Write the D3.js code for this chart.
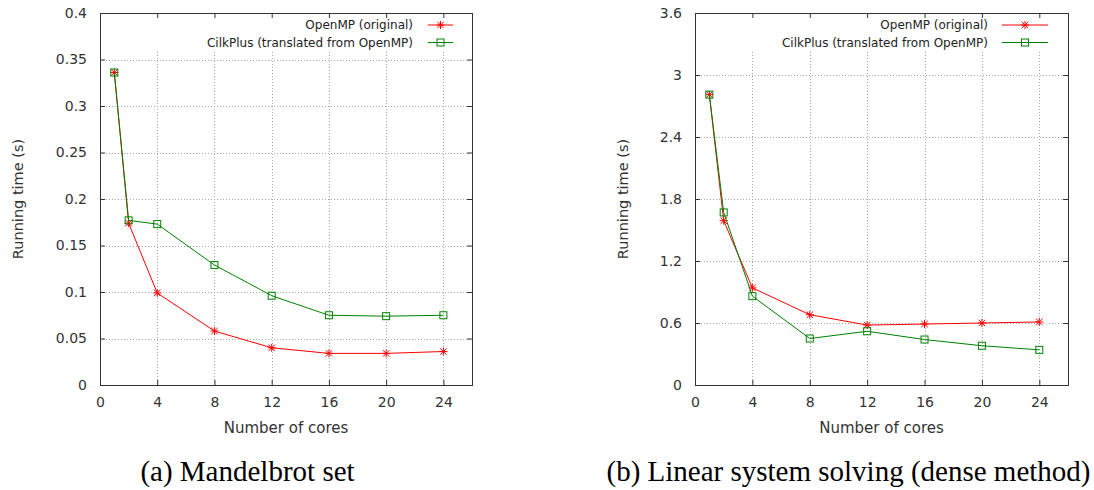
<!DOCTYPE html>
<html>
<head>
<meta charset="utf-8">
<script src="https://cdn.jsdelivr.net/npm/d3@7"></script>
<style>
  html, body { margin: 0; padding: 0; background: #fff; }
  svg { display: block; }
</style>
</head>
<body>
<script>
// ---- data ----
const cores = [1, 2, 4, 8, 12, 16, 20, 24];
const mandelOpenMP = [0.336, 0.174, 0.099, 0.058, 0.040, 0.034, 0.034, 0.036];
const mandelCilk   = [0.336, 0.177, 0.173, 0.129, 0.096, 0.075, 0.074, 0.075];
const linearOpenMP = [2.81, 1.59, 0.94, 0.68, 0.58, 0.59, 0.60, 0.61];
const linearCilk   = [2.81, 1.67, 0.86, 0.45, 0.52, 0.44, 0.38, 0.34];
const xTicks = [0, 4, 8, 12, 16, 20, 24];
const mandelYTicks = [0, 0.05, 0.1, 0.15, 0.2, 0.25, 0.3, 0.35, 0.4];
const linearYTicks = [0, 0.6, 1.2, 1.8, 2.4, 3, 3.6];
const seriesNames = ["OpenMP (original)", "CilkPlus (translated from OpenMP)"];
const captions = ["(a) Mandelbrot set", "(b) Linear system solving (dense method)"];
const xTitle = "Number of cores";
const yTitle = "Running time (s)";

const W = 1094, H = 490;
const svg = d3.select("body").append("svg").attr("width", W).attr("height", H);

const RED = "#ff0000", GREEN = "#008000";
const FONT = "DejaVu Sans, sans-serif";

function panel(cfg) {
  const { left, right, top, bottom, yMax, yTicks, openmp, cilk, caption, capX,
          legTextEnd, legLineX0, legLineX1, yTitleX } = cfg;
  const x = d3.scaleLinear().domain([0, 26]).range([left, right]);
  const y = d3.scaleLinear().domain([0, yMax]).range([bottom, top]);
  const g = svg.append("g");

  // grid
  const grid = g.append("g").attr("stroke", "#a8a8a8").attr("stroke-width", 1)
    .attr("stroke-dasharray", "1,2");
  xTicks.filter(t => t > 0).forEach(t => {
    grid.append("line").attr("x1", Math.round(x(t)) + 0.5).attr("x2", Math.round(x(t)) + 0.5)
      .attr("y1", 52).attr("y2", bottom);
  });
  yTicks.filter(t => t > 0 && t < yMax).forEach(t => {
    grid.append("line").attr("y1", Math.round(y(t)) + 0.5).attr("y2", Math.round(y(t)) + 0.5)
      .attr("x1", left).attr("x2", right);
  });

  // axes (inward ticks, mirrored)
  const fmt = d => String(+d.toFixed(2));
  const axB = g.append("g").attr("transform", `translate(0,${bottom})`)
    .call(d3.axisBottom(x).tickValues(xTicks).tickSize(-5).tickPadding(12).tickFormat(fmt));
  const axT = g.append("g").attr("transform", `translate(0,${top})`)
    .call(d3.axisTop(x).tickValues(xTicks).tickSize(-5).tickFormat(""));
  const axL = g.append("g").attr("transform", `translate(${left},0)`)
    .call(d3.axisLeft(y).tickValues(yTicks).tickSize(-5).tickPadding(13).tickFormat(fmt));
  const axR = g.append("g").attr("transform", `translate(${right},0)`)
    .call(d3.axisRight(y).tickValues(yTicks).tickSize(-5).tickFormat(""));
  [axB, axT, axL, axR].forEach(a => {
    a.select(".domain").remove();
    a.selectAll(".tick line").attr("stroke", "#333");
    a.selectAll("text").attr("font-family", FONT).attr("font-size", 14).attr("fill", "#333");
  });

  // frame
  g.append("rect").attr("x", left + 0.5).attr("y", top + 0.5)
    .attr("width", right - left).attr("height", bottom - top)
    .attr("fill", "none").attr("stroke", "#333").attr("stroke-width", 1);

  // titles
  g.append("text").attr("x", (left + right) / 2).attr("y", 433)
    .attr("text-anchor", "middle").attr("font-family", FONT).attr("font-size", 15)
    .attr("fill", "#333").text(xTitle);
  g.append("text").attr("transform", `translate(${yTitleX},${(top + bottom) / 2}) rotate(-90)`)
    .attr("text-anchor", "middle").attr("dy", "0.35em").attr("font-family", FONT)
    .attr("font-size", 14.5).attr("fill", "#333").text(yTitle);

  // caption
  svg.append("text").attr("x", capX).attr("y", 481).attr("text-anchor", "middle")
    .attr("font-family", "Liberation Serif, Times New Roman, serif").attr("font-size", 29)
    .attr("fill", "#000").text(caption);

  // series
  const line = d3.line().x(d => x(d[0])).y(d => y(d[1]));
  const series = [
    { vals: openmp, color: RED, marker: "star" },
    { vals: cilk, color: GREEN, marker: "square" }
  ];
  function drawMarker(sel, cx, cy, type, color) {
    if (type === "star") {
      const r = 4;
      const p = `M${cx - r},${cy}L${cx + r},${cy}M${cx},${cy - r}L${cx},${cy + r}` +
        `M${cx - r * 0.8},${cy - r * 0.8}L${cx + r * 0.8},${cy + r * 0.8}` +
        `M${cx - r * 0.8},${cy + r * 0.8}L${cx + r * 0.8},${cy - r * 0.8}`;
      sel.append("path").attr("d", p).attr("stroke", color).attr("stroke-width", 1).attr("fill", "none");
    } else {
      const s = 7;
      sel.append("rect").attr("x", cx - s / 2).attr("y", cy - s / 2).attr("width", s).attr("height", s)
        .attr("fill", "none").attr("stroke", color).attr("stroke-width", 1);
    }
  }
  // draw cilk first then openmp so red on top at shared points? draw red first, green on top
  [series[0], series[1]].forEach(s => {
    const pts = cores.map((c, i) => [c, s.vals[i]]);
    g.append("path").attr("d", line(pts)).attr("fill", "none")
      .attr("stroke", s.color).attr("stroke-width", 1);
    pts.forEach(p => drawMarker(g, x(p[0]), y(p[1]), s.marker, s.color));
  });

  // legend
  const legY = [25, 42.5];
  series.forEach((s, i) => {
    g.append("text").attr("x", legTextEnd).attr("y", legY[i]).attr("dy", "0.35em")
      .attr("text-anchor", "end").attr("font-family", FONT).attr("font-size", 12)
      .attr("fill", "#222").text(seriesNames[i]);
    g.append("line").attr("x1", legLineX0).attr("x2", legLineX1)
      .attr("y1", legY[i]).attr("y2", legY[i]).attr("stroke", s.color).attr("stroke-width", 1);
    drawMarker(g, (legLineX0 + legLineX1) / 2, legY[i], s.marker, s.color);
  });
}

panel({ left: 100, right: 472, top: 13, bottom: 385, yMax: 0.4, yTicks: mandelYTicks,
  openmp: mandelOpenMP, cilk: mandelCilk, caption: captions[0], capX: 247.5,
  legTextEnd: 413, legLineX0: 428, legLineX1: 453, yTitleX: 18 });
panel({ left: 695, right: 1068, top: 13, bottom: 385, yMax: 3.6, yTicks: linearYTicks,
  openmp: linearOpenMP, cilk: linearCilk, caption: captions[1], capX: 848.5,
  legTextEnd: 988, legLineX0: 1002, legLineX1: 1048, yTitleX: 623 });
</script>
</body>
</html>
